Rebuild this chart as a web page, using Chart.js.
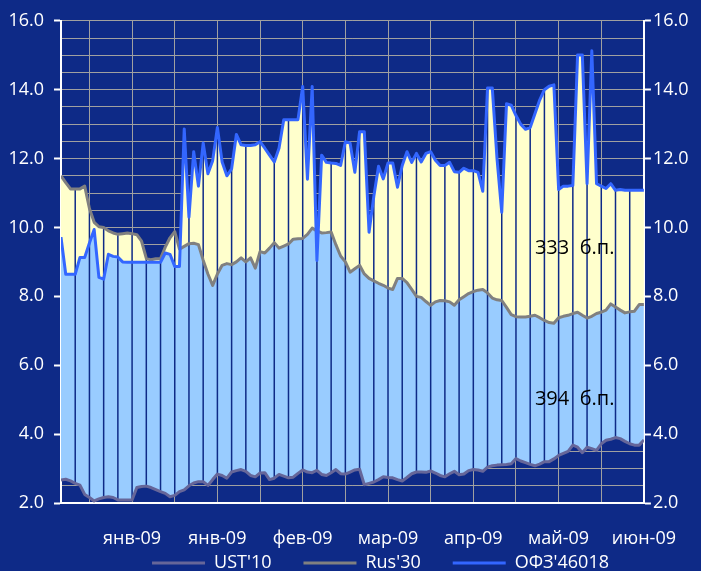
<!DOCTYPE html>
<html>
<head>
<meta charset="utf-8">
<script src="https://cdn.jsdelivr.net/npm/chart.js@4.4.1/dist/chart.umd.min.js"></script>
<style>
    html, body { margin: 0; padding: 0; background: #0e2a87; }
    canvas { display: block; }
</style>
</head>
<body>
<canvas id="spreadChart" width="701" height="571"></canvas>
<script>
(function () {
    'use strict';

    // Daily yields, %, one value per trading day (index 0 = left edge)
    var ust10 = [
        2.67, 2.69, 2.64, 2.57, 2.52, 2.25, 2.16, 2.06, 2.12, 2.16,
        2.18, 2.16, 2.09, 2.09, 2.09, 2.09, 2.45, 2.48, 2.49, 2.45,
        2.39, 2.33, 2.28, 2.18, 2.22, 2.33, 2.38, 2.50, 2.58, 2.62,
        2.62, 2.51, 2.68, 2.84, 2.80, 2.72, 2.90, 2.94, 2.97, 2.92,
        2.80, 2.76, 2.87, 2.88, 2.68, 2.72, 2.83, 2.78, 2.73, 2.75,
        2.86, 2.96, 2.90, 2.88, 2.95, 2.83, 2.80, 2.88, 2.97, 2.85,
        2.84, 2.90, 2.96, 2.98, 2.53, 2.57, 2.61, 2.68, 2.76, 2.74,
        2.73, 2.68, 2.64, 2.74, 2.85, 2.90, 2.90, 2.89, 2.93, 2.87,
        2.80, 2.76, 2.85, 2.92, 2.82, 2.84, 2.94, 2.97, 2.96, 2.92,
        3.04, 3.08, 3.10, 3.11, 3.12, 3.14, 3.29, 3.22, 3.17, 3.12,
        3.08, 3.13, 3.20, 3.20, 3.28, 3.38, 3.44, 3.50, 3.68, 3.62,
        3.46, 3.62, 3.58, 3.53, 3.72, 3.82, 3.85, 3.90, 3.87, 3.79,
        3.72, 3.68, 3.68, 3.83
    ];

    var rus30 = [
        11.50, 11.30, 11.12, 11.12, 11.12, 11.20, 10.55, 10.15, 10.02, 10.00,
        9.90, 9.84, 9.80, 9.82, 9.84, 9.82, 9.79, 9.60, 9.10, 9.06,
        9.09, 9.10, 9.43, 9.70, 9.88, 9.37, 9.45, 9.53, 9.54, 9.50,
        9.05, 8.65, 8.32, 8.65, 8.90, 8.95, 8.92, 9.00, 9.12, 9.00,
        9.12, 8.82, 9.30, 9.26, 9.40, 9.56, 9.40, 9.46, 9.52, 9.66,
        9.67, 9.68, 9.80, 9.98, 9.90, 9.84, 9.85, 9.87, 9.50, 9.17,
        9.00, 8.70, 8.80, 8.90, 8.65, 8.52, 8.45, 8.38, 8.32, 8.24,
        8.20, 8.52, 8.52, 8.40, 8.20, 8.00, 7.97, 7.85, 7.74, 7.84,
        7.88, 7.87, 7.84, 7.74, 7.90, 7.99, 8.08, 8.14, 8.18, 8.20,
        8.10, 7.95, 7.90, 7.88, 7.68, 7.47, 7.41, 7.40, 7.40, 7.42,
        7.45, 7.38, 7.30, 7.24, 7.22, 7.38, 7.42, 7.45, 7.50, 7.54,
        7.45, 7.37, 7.42, 7.50, 7.54, 7.60, 7.78, 7.69, 7.60, 7.52,
        7.55, 7.57, 7.76, 7.76
    ];

    var ofz46018 = [
        9.72, 8.64, 8.64, 8.64, 9.13, 9.13, 9.55, 9.94, 8.55, 8.50,
        9.22, 9.16, 9.14, 9.00, 8.99, 8.99, 8.99, 8.99, 8.99, 8.99,
        8.99, 8.99, 9.26, 9.22, 8.87, 8.87, 12.86, 10.30, 12.20, 11.20,
        12.45, 11.56, 11.94, 12.90, 11.90, 11.50, 11.70, 12.70, 12.40, 12.38,
        12.38, 12.40, 12.49, 12.30, 12.10, 11.90, 12.30, 13.13, 13.13, 13.13,
        13.13, 14.09, 11.40, 14.09, 9.04, 12.10, 11.89, 11.87, 11.86, 11.80,
        12.49, 12.45, 11.60, 12.78, 12.78, 9.86, 10.90, 11.78, 11.41, 11.87,
        11.87, 11.17, 11.80, 12.20, 11.89, 12.15, 11.90, 12.15, 12.20, 11.95,
        11.80, 11.80, 11.89, 11.62, 11.60, 11.72, 11.65, 11.65, 11.60, 11.05,
        14.05, 14.05, 12.00, 10.44, 13.59, 13.55, 13.25, 13.00, 12.85, 12.90,
        13.30, 13.70, 14.00, 14.10, 14.14, 11.10, 11.20, 11.20, 11.22, 15.01,
        15.01, 11.27, 15.13, 11.27, 11.20, 11.13, 11.27, 11.08, 11.10, 11.08,
        11.08, 11.08, 11.08, 11.08
    ];

    var seriesNames = ['UST\'10', 'Rus\'30', 'ОФЗ\'46018'];
    var monthLabels = ['янв-09', 'янв-09', 'фев-09', 'мар-09', 'апр-09', 'май-09', 'июн-09'];
    var spreadNotes = ['333  б.п.', '394  б.п.'];
    var noteIndex = [100, 100];
    var noteLevel = [9.4, 5.0];

    var FONT = '"Open Sans", sans-serif';
    var BG = '#0e2a87';
    var GRID = '#a0a0a0';

    // vertical grid every 9 trading days, first one 6 days in
    var gridIdx = [];
    for (var k = 0; 6 + 9 * k <= ofz46018.length - 1; k++) gridIdx.push(6 + 9 * k);

    function toPoints(arr) {
        return arr.map(function (v, i) { return { x: i, y: v }; });
    }

    function isMajor(v) {
        return Math.abs(v % 2) < 1e-9;
    }

    // dark verticals between the fill top and the UST line
    var dropLines = {
        id: 'dropLines',
        beforeDatasetsDraw: function (chart) {
            var xs = chart.scales.x, ys = chart.scales.y, ctx = chart.ctx;
            ctx.save();
            ctx.strokeStyle = BG;
            ctx.lineWidth = 1.5;
            for (var i = 3; i < ofz46018.length - 1; i += 3) {
                var px = xs.getPixelForValue(i);
                ctx.beginPath();
                ctx.moveTo(px, ys.getPixelForValue(Math.max(ofz46018[i], rus30[i])));
                ctx.lineTo(px, ys.getPixelForValue(ust10[i]));
                ctx.stroke();
            }
            ctx.restore();
        }
    };

    var spreadText = {
        id: 'spreadText',
        afterDatasetsDraw: function (chart) {
            var xs = chart.scales.x, ys = chart.scales.y, ctx = chart.ctx;
            ctx.save();
            ctx.fillStyle = '#000000';
            ctx.font = '20px ' + FONT;
            ctx.textAlign = 'left';
            ctx.textBaseline = 'middle';
            spreadNotes.forEach(function (t, n) {
                ctx.fillText(t, xs.getPixelForValue(noteIndex[n]), ys.getPixelForValue(noteLevel[n]));
            });
            ctx.restore();
        }
    };

    // legend sits low and a bit right of centre in the original
    var legendPlace = {
        id: 'legendPlace',
        afterLayout: function (chart) {
            var lg = chart.legend;
            if (!lg) return;
            var h = lg.bottom - lg.top;
            lg.left += 30;
            lg.right += 30;
            lg.top = 522;
            lg.bottom = lg.top + h;
        }
    };

    var legendRank = [0, 2, 1];

    var yTicks = {
        stepSize: 0.5,
        autoSkip: false,
        color: '#ffffff',
        font: { family: FONT, size: 18 },
        callback: function (v) { return isMajor(v) ? v.toFixed(1) : ''; }
    };

    new Chart(document.getElementById('spreadChart').getContext('2d'), {
        type: 'line',
        data: {
            datasets: [{
                label: seriesNames[0],
                data: toPoints(ust10),
                borderColor: '#666699',
                borderWidth: 3,
                fill: false
            }, {
                label: seriesNames[2],
                data: toPoints(ofz46018),
                borderColor: '#3366ff',
                backgroundColor: '#ffffcc',
                borderWidth: 3,
                fill: { target: 2, above: '#ffffcc', below: '#ffffcc' }
            }, {
                label: seriesNames[1],
                data: toPoints(rus30),
                borderColor: '#808080',
                backgroundColor: '#99ccff',
                borderWidth: 3,
                fill: { target: 0, above: '#99ccff', below: '#99ccff' }
            }]
        },
        options: {
            responsive: false,
            animation: false,
            layout: { padding: { top: 20, left: 0, right: 0, bottom: -60 } },
            elements: {
                point: { radius: 0 },
                line: { tension: 0, borderJoinStyle: 'round' }
            },
            plugins: {
                filler: { drawTime: 'beforeDatasetsDraw' },
                tooltip: { enabled: false },
                legend: {
                    position: 'bottom',
                    labels: {
                        color: '#ffffff',
                        font: { family: FONT, size: 18 },
                        boxWidth: 53,
                        boxHeight: 3,
                        padding: 32,
                        sort: function (a, b) { return legendRank[a.datasetIndex] - legendRank[b.datasetIndex]; },
                        generateLabels: function (chart) {
                            var items = Chart.defaults.plugins.legend.labels.generateLabels(chart);
                            items.forEach(function (it) {
                                var ds = chart.data.datasets[it.datasetIndex];
                                it.fillStyle = ds.borderColor;
                                it.strokeStyle = ds.borderColor;
                                it.lineWidth = 0;
                            });
                            return items;
                        }
                    }
                }
            },
            scales: {
                x: {
                    type: 'linear',
                    min: 0,
                    max: ofz46018.length - 1,
                    afterBuildTicks: function (s) {
                        s.ticks = gridIdx.map(function (v) { return { value: v }; });
                    },
                    afterFit: function (s) {
                        s.height = 571 - 503 + 60 - (s.chart.legend ? s.chart.legend.height : 0);
                    },
                    grid: { color: GRID, lineWidth: 1, drawTicks: false },
                    border: { color: '#ffffff', width: 2 },
                    ticks: {
                        autoSkip: false,
                        maxRotation: 0,
                        minRotation: 0,
                        padding: 25,
                        color: '#ffffff',
                        font: { family: FONT, size: 18 },
                        callback: function (v, i) { return i % 2 === 1 ? monthLabels[(i - 1) / 2] : ''; }
                    }
                },
                y: {
                    position: 'left',
                    min: 2,
                    max: 16,
                    afterFit: function (s) { s.width = 61; },
                    grid: {
                        color: GRID,
                        lineWidth: 1,
                        tickLength: 7,
                        tickWidth: 2,
                        tickColor: function (c) { return c.tick && isMajor(c.tick.value) ? '#ffffff' : 'rgba(0,0,0,0)'; }
                    },
                    border: { color: '#ffffff', width: 2 },
                    ticks: Object.assign({ padding: 10 }, yTicks)
                },
                y2: {
                    position: 'right',
                    min: 2,
                    max: 16,
                    afterFit: function (s) { s.width = 56; },
                    grid: {
                        drawOnChartArea: false,
                        tickLength: 7,
                        tickWidth: 2,
                        tickColor: function (c) { return c.tick && isMajor(c.tick.value) ? '#ffffff' : 'rgba(0,0,0,0)'; }
                    },
                    border: { color: '#ffffff', width: 2 },
                    ticks: Object.assign({ padding: 2 }, yTicks)
                }
            }
        },
        plugins: [dropLines, spreadText, legendPlace]
    });
})();
</script>
</body>
</html>
